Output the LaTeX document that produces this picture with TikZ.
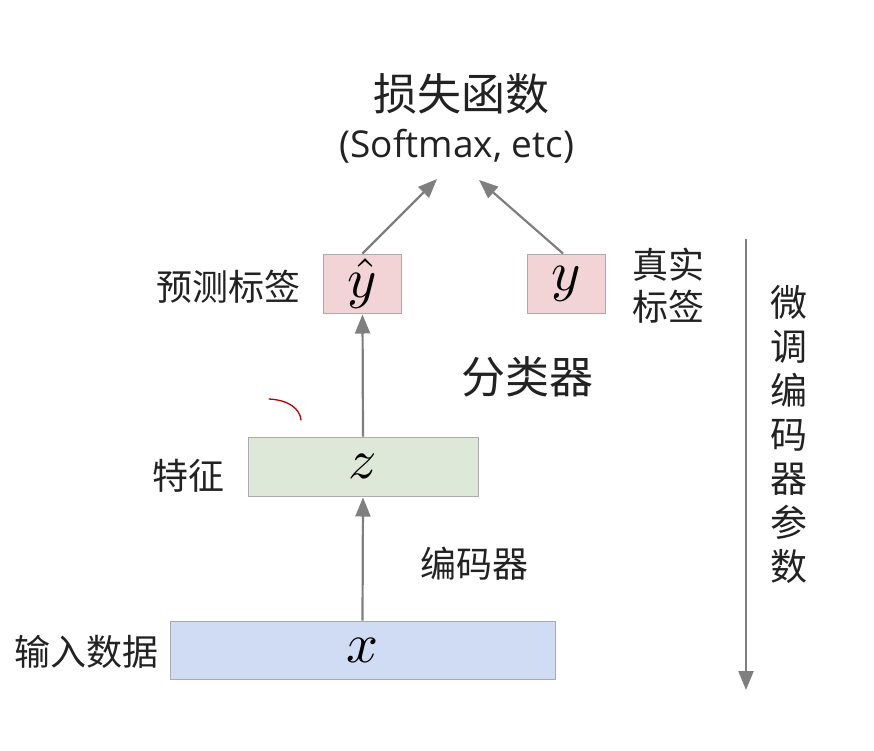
\documentclass[tikz,border=0pt]{standalone}
\usepackage{graphicx}
\usepackage{fontspec}
\setmainfont{Open Sans}
\newfontfamily\cjk{Noto Sans CJK SC}
\usetikzlibrary{arrows.meta}
\definecolor{txt}{HTML}{222222}
\definecolor{arrgray}{HTML}{7F7F7F}
\definecolor{boxgray}{HTML}{ABABAB}
\definecolor{pinkfill}{HTML}{F2D4D6}
\definecolor{greenfill}{HTML}{DDE8D8}
\definecolor{bluefill}{HTML}{D0DCF4}
\newcommand{\boxmath}[1]{\scalebox{5.6}{$#1$}}
\tikzset{
  box/.style={draw=boxgray, line width=1pt, inner sep=0pt, text=black},
  arr/.style={draw=arrgray, line width=2.2pt, -{Triangle[length=19pt,width=15pt]}},
  lab/.style={text=txt, inner sep=0pt, font=\cjk\fontsize{36}{40}\selectfont}
}
\begin{document}
\begin{tikzpicture}[x=1pt,y=-1pt]
\useasboundingbox (0,0) rectangle (874,750);
\fill[white] (0,0) rectangle (874,750);

% title
\node[lab, font=\cjk\fontsize{44}{48}\selectfont] (loss) at (461,94) {损失函数};
\node[text=txt, inner sep=0pt, font=\fontsize{37}{40}\selectfont] (soft) at (457,146) {(Softmax, etc)};
\coordinate (tipA) at (437,179);
\coordinate (tipB) at (479,180);

% boxes
\node[box, fill=pinkfill, minimum width=78pt, minimum height=59pt] (yhat) at (362.5,283.5) {\boxmath{\hat{y}}};
\node[box, fill=pinkfill, minimum width=78pt, minimum height=59pt] (ytrue) at (566,283.5) {\boxmath{y}};
\node[box, fill=greenfill, minimum width=230pt, minimum height=59pt] (z) at (363,466.5) {\boxmath{z}};
\node[box, fill=bluefill, minimum width=385pt, minimum height=58pt] (x) at (362.5,650) {\boxmath{x}};

% labels
\node[lab] (yhatlab) at (228,287) {预测标签};
\node[lab, align=center, font=\cjk\fontsize{36}{42}\selectfont] (ytruelab) at (668,286) {真实\\标签};
\node[lab, font=\cjk\fontsize{44}{48}\selectfont] (cls) at (527,377) {分类器};
\node[lab] (zlab) at (188,476) {特征};
\node[lab] (enc) at (474,564) {编码器};
\node[lab] (xlab) at (86,652) {输入数据};
\node[lab, align=center, font=\cjk\fontsize{37}{44}\selectfont] (ft) at (789,434) {微\\调\\编\\码\\器\\参\\数};

% connectors
\draw[arr] (yhat.north) -- (tipA);
\draw[arr] ([xshift=-3pt]ytrue.north) -- (tipB);
\draw[arr, shorten >=1pt] (z.north) -- (yhat.south);
\draw[arr, shorten >=1pt] (x.north) -- (z.south);

\coordinate (ftTop) at (746,239);
\coordinate (ftBot) at (746,690);
\draw[arr] (ftTop) -- (ftBot);

% red annotation mark
\draw[red!75!black, line width=1.3pt, line cap=round] (269,399) .. controls (289,400) and (300,409) .. (301,420);
\end{tikzpicture}
\end{document}
